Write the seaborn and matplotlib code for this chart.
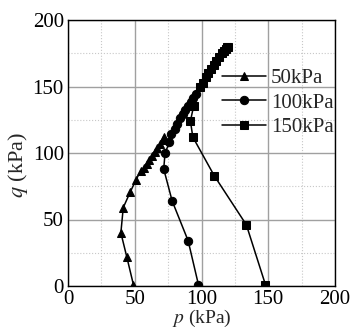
import numpy as np
import pandas as pd
import seaborn as sns
import matplotlib
matplotlib.use("Agg")
import matplotlib.pyplot as plt
from matplotlib.ticker import MultipleLocator

sns.set_style("white")
plt.rcParams['font.family'] = ['Liberation Serif', 'DejaVu Serif']
plt.rcParams['mathtext.fontset'] = 'stix'

labels = ["50kPa", "100kPa", "150kPa"]
p50 = [49, 44, 39.6, 41.4, 46.6, 51, 54.6, 57, 59, 61, 63, 65, 67, 69, 71, 72]
q50 = [1, 22, 40, 59, 70.6, 80, 86.7, 89, 92, 95, 98, 101, 104, 107, 110, 112]
p100 = [97.7, 90, 78, 71.7, 72.7, 76, 77, 80, 82, 84, 86, 88, 90, 92, 94, 96]
q100 = [1, 34, 64, 88, 100, 108, 114, 118, 122, 126, 129, 132, 135, 138, 141, 144]
p150 = [147.9, 133.6, 109.5, 93.5, 91.7, 94.2, 99.2, 101, 103, 105, 107, 109, 111, 113, 115, 117, 118, 119, 120]
q150 = [1, 46, 83, 112, 124, 135.7, 150, 153, 157, 160, 163, 166, 169, 172, 175, 177, 178.5, 179.5, 180]

frames = []
for lab, p, q in zip(labels, [p50, p100, p150], [q50, q100, q150]):
    frames.append(pd.DataFrame({"p": p, "q": q, "s": lab, "order": range(len(p))}))
df = pd.concat(frames, ignore_index=True)

fig = plt.figure(figsize=(3.52, 3.34), dpi=100)
ax = fig.add_axes([68/352, 48/334, 267/352, 266/334])

sns.lineplot(data=df, x="p", y="q", hue="s", style="s", markers=["^", "o", "s"],
             dashes=False, palette=["black"] * 3, sort=False, estimator=None,
             markersize=6, linewidth=1.1, markeredgecolor="black", ax=ax)

ax.set_xlim(0, 200)
ax.set_ylim(0, 200)
ax.xaxis.set_major_locator(MultipleLocator(50))
ax.yaxis.set_major_locator(MultipleLocator(50))
ax.xaxis.set_minor_locator(MultipleLocator(25))
ax.yaxis.set_minor_locator(MultipleLocator(25))
ax.grid(which="major", color="#a0a0a0", linewidth=1.0, linestyle="-")
ax.grid(which="minor", color="#c8c8c8", linewidth=0.8, linestyle=":")
ax.set_axisbelow(True)
for sp in ax.spines.values():
    sp.set_color("black")
    sp.set_linewidth(1.0)
ax.tick_params(axis="both", which="both", length=0, labelsize=15, pad=3, colors="black")
ax.set_xlabel(r"$p$ (kPa)", fontsize=14, labelpad=-1)
ax.set_ylabel(r"$q$ (kPa)", fontsize=16)
ax.yaxis.set_label_coords(-0.142, 0.455)

ax.legend(loc="upper left", bbox_to_anchor=(0.577, 0.817), frameon=False, fontsize=15,
          handlelength=2.1, handletextpad=0.25, labelspacing=0.23, borderaxespad=0, borderpad=0)

fig.savefig("out.png", dpi=100)
